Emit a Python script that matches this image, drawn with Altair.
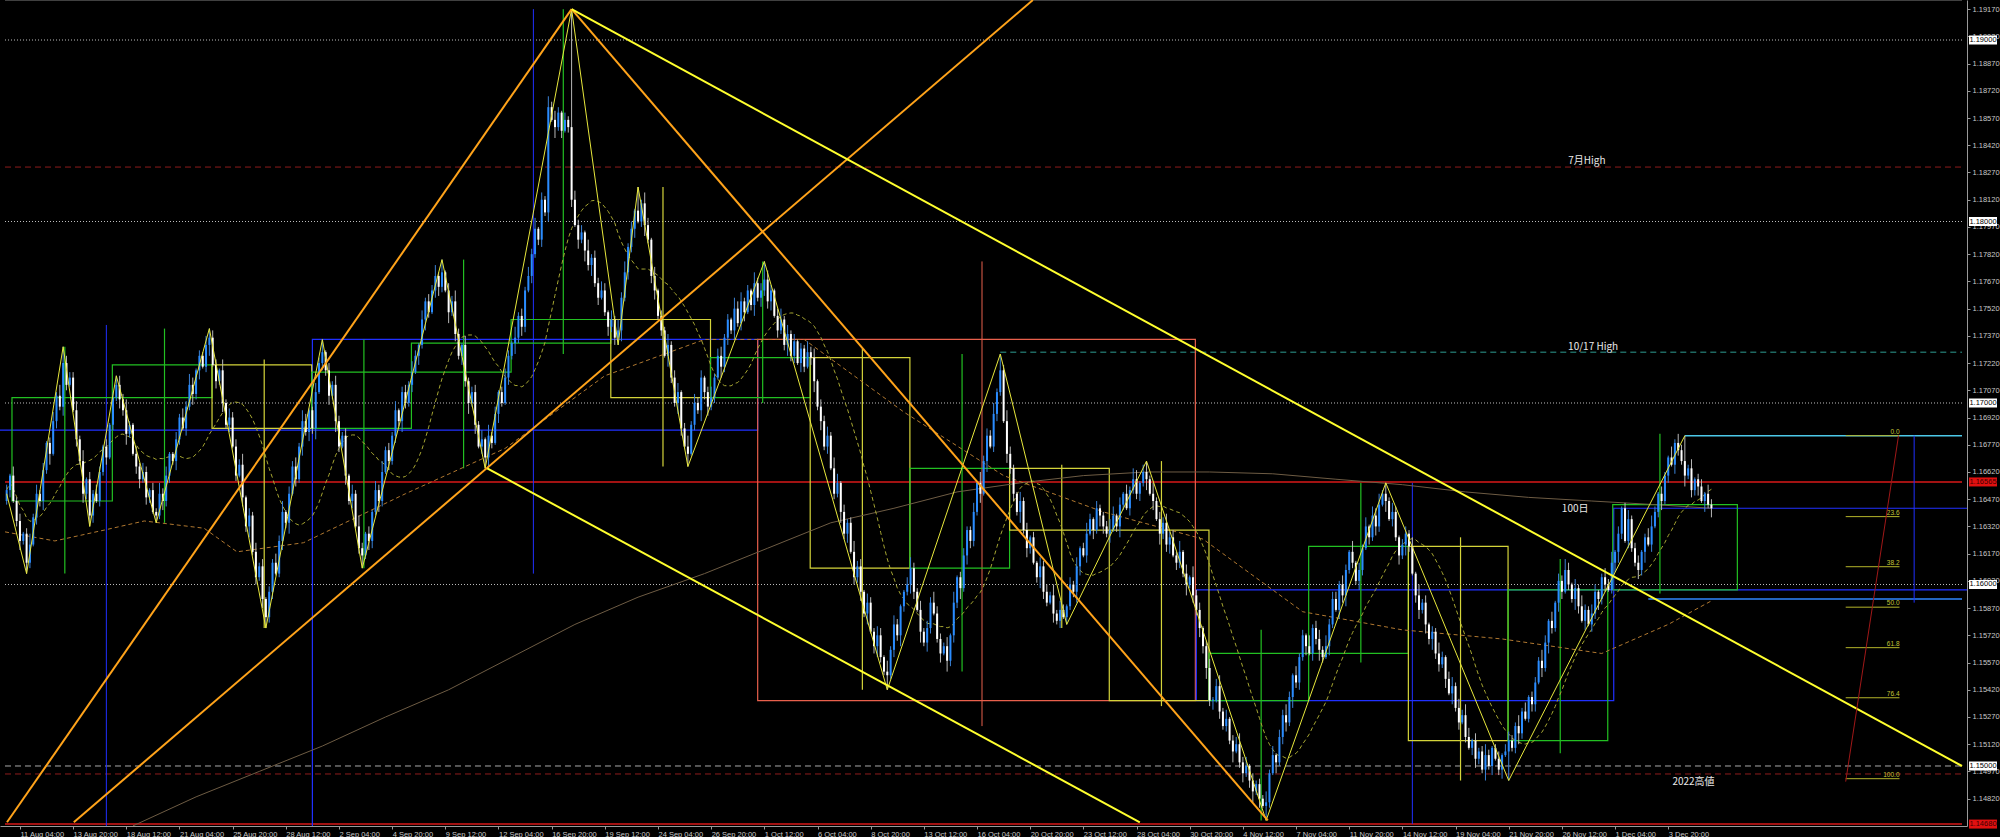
import altair as alt
import pandas as pd

# Prices are kept in pips above BASE (1 pip = 0.0001)
BASE = 1.15
PIP = 0.0001


def price(p):
    return round(BASE + p * PIP, 6)


# ---------------- 4-hour EURUSD candles (bar 0 = Fri 8 Aug 12:00) ----------------
FIRST_OPEN = 146
CLOSES = [
    152, 160, 146, 135, 124, 128, 112,
    122, 137, 150, 146, 163, 178, 172, 190, 204, 198, 222,
    210, 214, 196, 180, 168, 150, 158, 138,
    150, 146, 162, 176, 170, 188, 203, 210,
    202, 196, 183, 188, 172, 165, 158, 162, 148, 152, 140, 138,
    150, 146, 160, 172, 168, 180, 192, 186, 198, 210, 205, 218, 226, 220, 232, 236,
    221, 212, 218, 200, 188, 192, 176, 160, 166, 148, 132, 138, 118, 104, 110, 92, 82,
    96, 112, 106, 124, 140, 134, 150, 165, 158, 176, 190, 184, 196, 186, 206, 222, 228,
    218, 204, 210, 190, 176, 182, 160, 146, 150, 132, 120, 116,
    128, 124, 140, 152, 146, 162, 174, 168, 182, 196, 190, 206, 200, 210, 217, 226, 232, 246, 256, 250, 262, 270, 264, 272,
    262, 250, 256, 238, 226, 232, 212, 200, 206, 188, 176, 180, 170,
    182, 178, 194, 206, 200, 214, 226, 233, 236, 248, 242, 262, 270, 282, 296, 290, 312, 305, 363, 356, 352, 360, 350, 356, 352, 312,
    298, 290, 294, 284, 276, 280, 266, 258, 262, 250, 242, 246, 236, 240,
    258, 272, 286, 296, 306, 300, 310, 298, 290, 270, 262, 248, 240,
    226, 232, 214, 200, 206, 186, 176, 172,
    188, 200, 196, 214, 206, 198, 203,
    214, 226, 220, 236, 246, 240, 252, 244, 256, 250, 262, 254, 266, 258, 262, 268,
    256, 262, 248, 240, 246, 232, 238, 226, 234, 222, 230, 220, 228, 225,
    212, 198, 190, 176, 182, 164, 150, 156, 140, 128, 134, 118, 104, 110, 96, 84, 90, 74, 66, 72, 60, 52, 50,
    64, 78, 72, 88, 96, 100, 109,
    96, 86, 74, 68, 76, 90, 84, 70, 62, 66, 58,
    72, 90, 104, 98, 116, 130, 124, 140, 156, 150, 168, 182, 176, 194, 206, 218,
    190, 172, 164,
    150, 140, 146, 130, 120, 126, 112, 104, 110, 96, 90, 94, 84, 80, 86, 82, 88,
    100, 96, 110, 120, 116, 128, 136, 130, 142, 138, 132, 128, 130,
    138, 132, 144, 150, 142, 152, 158, 150, 156, 162, 158,
    150, 146, 136, 128, 134, 122, 126, 116, 112, 118, 106, 100, 104, 94, 86, 76, 66, 54, 36, 36, 44, 30, 22, 26, 14, 8, 12, 2, -4, 0, -8, -14, -10, -18, -22, -20,
    -4, 6, 2, 16, 28, 24, 38, 50, 46, 60, 72, 66, 62,
    76, 70, 64, 60, 66, 78, 92, 86, 100, 94, 108, 118, 112, 102, 108, 120, 132, 126, 138, 132, 144, 150, 146,
    136, 140, 126, 116, 122, 128, 121,
    106, 94, 86, 90, 78, 70, 74, 62, 56, 60, 48, 40, 44, 32, 24, 28, 16, 10, 14, 4, 8, -2, 6, 0, 10, 4, -2, 6, 8, 14,
    10, 22, 18, 30, 26, 38, 34, 46, 58, 54, 68, 80, 76, 90, 102, 96, 108, 100, 92, 98, 88, 80, 86, 78, 84, 96, 92, 104, 100, 97,
    112, 118, 128, 142, 124, 136, 120, 112, 108, 118, 126, 122, 132, 140, 150, 146, 160, 170, 166, 178, 174, 168, 160,
    164, 152, 158, 154, 146, 150, 144, 142,
]

# wick lengths in pips, one digit per bar
UPPER_WICKS = (
    "3152413625" "2413526143" "3526142531" "4132536214" "2531426351"
    "1425364132" "5243162534" "3614252413" "2536143526" "4125361425"
    "3241526314" "1536242513" "4263152436" "2514363152" "3425162413"
    "5316242536" "1426353142" "2534162435" "4152636241" "3264151326"
    "2451362534" "1362452316" "4523163425" "3146252413" "2635143526"
    "5142363415" "3254162531" "1463252436" "4325161342" "2516343625"
    "3642152413" "1534262531" "4251363142" "2365141526" "5143262435"
    "3426151634" "1352462513" "4635142326" "2514363152" "3162452634"
    "4253161425" "1546232531" "3425162413" "2631452536" "5142363124"
    "1453262513" "3264151436" "4152632541" "2536141352" "3412563142"
    "1625342513" "4153262435"
)
LOWER_WICKS = (
    "2413526314" "3526142531" "1425364132" "4132536214" "5243162534"
    "2531426351" "3614252413" "1536242513" "4125361425" "2536143526"
    "3152413625" "4263152436" "3241526314" "5316242536" "2514363152"
    "1426353142" "3425162413" "4152636241" "2534162435" "1362452316"
    "3264151326" "4523163425" "2451362534" "5142363415" "3146252413"
    "2635143526" "1463252436" "3254162531" "2516343625" "4325161342"
    "1534262531" "3642152413" "2365141526" "4251363142" "3426151634"
    "5143262435" "4635142326" "1352462513" "3162452634" "2514363152"
    "1546232531" "4253161425" "2631452536" "3425162413" "1453262513"
    "5142363124" "4152632541" "3264151436" "3412563142" "2536141352"
    "4153262435" "1625342513"
)

# swing extremes (pips) that the wick digits do not cover
HIGH_AT = {17: 231, 33: 215, 61: 241, 95: 235, 131: 279, 170: 417, 190: 319,
           228: 278, 299: 227, 343: 168, 415: 156, 505: 182}
LOW_AT = {6: 106, 25: 132, 45: 134, 78: 76, 107: 109, 144: 164, 184: 232,
          205: 165, 265: 42, 319: 78, 379: -30, 452: -8}

# zigzag pivots (bar, pips)
SWINGS = [(0, 150), (6, 106), (17, 231), (25, 132), (33, 215), (45, 134), (61, 241),
          (78, 76), (95, 235), (107, 109), (131, 279), (144, 164), (170, 417),
          (184, 232), (190, 319), (205, 165), (228, 278), (265, 42), (299, 227),
          (319, 78), (343, 168), (379, -30), (415, 156), (452, -8), (505, 182)]

# weeks: first bar, box left, box right (bars)
WEEKS = [(3, 1.6, 31.8), (33, 31.8, 61.8), (63, 61.8, 91.8), (93, 91.8, 121.8),
         (123, 121.8, 151.8), (153, 151.8, 181.8), (183, 181.8, 211.8), (213, 211.8, 241.8),
         (243, 241.8, 271.8), (273, 271.8, 301.8), (303, 301.8, 331.8), (333, 331.8, 361.8),
         (363, 361.8, 391.8), (393, 391.8, 421.8), (423, 421.8, 451.8), (453, 451.8, 481.8),
         (483, 483.3, 520.8)]

# monthly candles: start bar, end bar, open, close, high, low, wick bar
MONTHS = [
    (-40, 92, -85, 185, 243, -110, 30),
    (92, 226, 185, 235, 417, 106, 158.5),
    (226, 357.7, 235, 36, 278, 22, 293.5),
    (358, 483.6, 36, 97, 156, -32, 423),
    (483.6, 640, 97, 142, 182, 90, 574),
]

# slower averages (bar, pips)
MA_MID = [(-0.5, 129), (14.5, 124), (29.4, 130), (41.4, 135), (59.4, 131), (69.3, 118),
          (89.3, 123), (120, 150), (150, 175), (180, 215), (210, 235), (240, 235),
          (270, 195), (300, 160), (330, 140), (360, 125), (390, 85), (420, 75),
          (450, 70), (480, 62), (500, 78), (513, 91)]
MA_100D = [(38, -33), (57, -17), (76, -3), (95, 11), (114, 27), (133, 42), (152, 60),
           (171, 78), (190, 93), (210, 106), (229, 120), (248, 134), (267, 142),
           (286, 151), (305, 156), (324, 160), (343, 162), (362, 162), (381, 161),
           (400, 158), (420, 155), (439, 151), (458, 148), (477, 146), (496, 144),
           (513, 142)]

# trend lines (bar, pips) -> (bar, pips)
TRENDS = [
    ((0.1, -31), (170, 417), "#ffa31a"),
    ((20.2, -31), (308.8, 422), "#ffa31a"),
    ((170, 417), (379.5, -30), "#ffa31a"),
    ((170, 417), (588.4, 0), "#ffff2e"),
    ((144.6, 164), (341, -31), "#ffff2e"),
]

# horizontal levels: pips, from bar, to bar, colour, dash, width
LEVELS = [
    (400, -0.5, 588.4, "#bdbdbd", [1, 2], 1),
    (300, -0.5, 588.4, "#bdbdbd", [1, 2], 1),
    (200, -0.5, 588.4, "#bdbdbd", [1, 2], 1),
    (100, -0.5, 588.4, "#bdbdbd", [1, 2], 1),
    (0, -0.5, 588.4, "#a8a8a8", [6, 4], 1),
    (330, -0.5, 588.4, "#8c1c1c", [6, 4], 1),
    (228, 299, 588.4, "#2f9c92", [6, 4], 1),
    (-4.4, -0.5, 588.4, "#8c1c1c", [6, 4], 1),
    (156.5, -0.5, 588.4, "#d81818", [], 1.5),
    (-32, -0.5, 588.4, "#d81818", [], 1.5),
    (182, 505, 588.4, "#4cc8e8", [], 1.5),
    (92, 494, 588.4, "#2f86ff", [], 1.5),
]

# text notes: text, bar, pips at the text baseline
NOTES = [("7月High", 475.5, 331.5), ("10/17 High", 477.4, 229), ("100日", 472, 140), ("2022高値", 507.6, -10.5)]

FIB_LEVELS = ["0.0", "23.6", "38.2", "50.0", "61.8", "76.4", "100.0"]
FIB_HIGH, FIB_LOW = 182, -7

TIME_TICKS = [4, 20, 36, 52, 68, 84, 100, 116, 132, 148, 164, 180, 196, 212, 228, 244,
              260, 276, 292, 308, 324, 340, 356, 372, 388, 404, 420, 436, 452, 468, 484, 500]
TIME_LABELS = ["11 Aug 04:00", "13 Aug 20:00", "18 Aug 12:00", "21 Aug 04:00", "25 Aug 20:00",
               "28 Aug 12:00", "2 Sep 04:00", "4 Sep 20:00", "9 Sep 12:00", "12 Sep 04:00",
               "16 Sep 20:00", "19 Sep 12:00", "24 Sep 04:00", "26 Sep 20:00", "1 Oct 12:00",
               "6 Oct 04:00", "8 Oct 20:00", "13 Oct 12:00", "16 Oct 04:00", "20 Oct 20:00",
               "23 Oct 12:00", "28 Oct 04:00", "30 Oct 20:00", "4 Nov 12:00", "7 Nov 04:00",
               "11 Nov 20:00", "14 Nov 12:00", "19 Nov 04:00", "21 Nov 20:00", "26 Nov 12:00",
               "1 Dec 04:00", "3 Dec 20:00"]
PRICE_TICKS = [1.14820, 1.14970, 1.15120, 1.15270, 1.15420, 1.15570, 1.15720, 1.15870,
               1.16020, 1.16170, 1.16320, 1.16470, 1.16620, 1.16770, 1.16920, 1.17070,
               1.17220, 1.17370, 1.17520, 1.17670, 1.17820, 1.17970, 1.18120, 1.18270,
               1.18420, 1.18570, 1.18720, 1.18870, 1.19020, 1.19170]
# boxed price tags on the axis: price, text, background, text colour
TAGS = [(1.19000, "1.19000", "#ffffff", "#000000"), (1.18000, "1.18000", "#ffffff", "#000000"),
        (1.17000, "1.17000", "#ffffff", "#000000"), (1.16000, "1.16000", "#ffffff", "#000000"),
        (1.15000, "1.15000", "#ffffff", "#000000"), (1.16565, "1.16565", "#e01010", "#400000"),
        (1.14680, "1.14680", "#e01010", "#400000")]

# ---------------- tables ----------------
rows = []
prev = FIRST_OPEN
for i, c in enumerate(CLOSES):
    o = prev
    hi = HIGH_AT.get(i, max(o, c) + int(UPPER_WICKS[i]))
    lo = LOW_AT.get(i, min(o, c) - int(LOWER_WICKS[i]))
    bull = c >= o
    rows.append({
        "bar": i, "open": price(o), "close": price(c), "high": price(hi), "low": price(lo),
        "body_lo": price(min(o, c)), "body_hi": price(max(o, c) + (0.6 if o == c else 0)),
        "body_col": "#2a8cff" if bull else "#ffffff",
        "wick_col": "#3b82d6" if bull else "#b8b8b8",
        "o": o, "c": c, "h": hi, "l": lo,
    })
    prev = c
candles = pd.DataFrame(rows)

weeks = []
for s, x0, x1 in WEEKS:
    part = candles[(candles.bar >= s) & (candles.bar <= s + 29)]
    o, c = part.o.iloc[0], part.c.iloc[-1]
    weeks.append({
        "x0": x0, "x1": x1, "mid": s + 14.5,
        "top": price(max(o, c)), "bot": price(min(o, c)),
        "high": price(part.h.max()), "low": price(part.l.min()),
        "col": "#22c022" if c >= o else "#d4d43a",
    })
weeks = pd.DataFrame(weeks)

months = pd.DataFrame([{
    "x0": s, "x1": e, "mid": m, "top": price(max(o, c)), "bot": price(min(o, c)),
    "high": price(h), "low": price(l), "col": "#2030ff" if c >= o else "#e8604c",
} for s, e, o, c, h, l, m in MONTHS])

zig = pd.DataFrame([{"i": k, "bar": b, "p": price(v)} for k, (b, v) in enumerate(SWINGS)])
ma_mid = pd.DataFrame([{"bar": b, "p": price(v)} for b, v in MA_MID])
ma_100 = pd.DataFrame([{"bar": b, "p": price(v)} for b, v in MA_100D])

XS = alt.Scale(domain=[-0.5, 588.4], nice=False, zero=False)
YS = alt.Scale(domain=[1.146694, 1.192204], nice=False, zero=False)

label_expr = "[" + ",".join(f"'{t}'" for t in TIME_LABELS) + "][round((datum.value - 4) / 16)]"
AXIS_X = alt.Axis(values=TIME_TICKS, labelExpr=label_expr, orient="bottom", labelAlign="left",
                  labelPadding=1, tickSize=3, labelFontSize=7.5, labelColor="#c8c8c8",
                  tickColor="#9a9a9a", domainColor="#9a9a9a", labelFont="Liberation Sans",
                  grid=False, title=None, labelOverlap=False, labelBound=False, labelFlush=False)
AXIS_Y = alt.Axis(values=PRICE_TICKS, format=".5f", orient="right", labelPadding=2, tickSize=3,
                  labelFontSize=7.5, labelColor="#c8c8c8", tickColor="#9a9a9a",
                  domainColor="#9a9a9a", labelFont="Liberation Sans", grid=False, title=None,
                  labelOverlap=False, labelBound=False, labelFlush=False)


def X(f):
    return alt.X(f"{f}:Q", scale=XS, axis=AXIS_X)


def Y(f):
    return alt.Y(f"{f}:Q", scale=YS, axis=AXIS_Y)


layers = []

# horizontal levels
for p, x0, x1, col, dash, w in LEVELS:
    d = pd.DataFrame([{"p": price(p), "x0": x0, "x1": x1}])
    kw = {"strokeDash": dash} if dash else {}
    layers.append(alt.Chart(d).mark_rule(color=col, strokeWidth=w, clip=True, **kw)
                  .encode(x=X("x0"), x2="x1", y=Y("p")))

# top frame line
layers.append(alt.Chart(pd.DataFrame([{"p": 1.192204, "x0": -0.5, "x1": 588.4}]))
              .mark_rule(color="#808080", strokeWidth=1)
              .encode(x=X("x0"), x2="x1", y=Y("p")))

# monthly candles
layers.append(alt.Chart(months).mark_rule(strokeWidth=1, clip=True)
              .encode(x=X("mid"), y=Y("low"), y2="high", color=alt.Color("col:N", scale=None)))
layers.append(alt.Chart(months).mark_rect(fillOpacity=0, strokeWidth=1.2, clip=True)
              .encode(x=X("x0"), x2="x1", y=Y("bot"), y2="top", stroke=alt.Stroke("col:N", scale=None)))

# weekly candles
layers.append(alt.Chart(weeks).mark_rule(strokeWidth=1.2, clip=True)
              .encode(x=X("mid"), y=Y("low"), y2="high", color=alt.Color("col:N", scale=None)))
layers.append(alt.Chart(weeks).mark_rect(fillOpacity=0, strokeWidth=1.2, clip=True)
              .encode(x=X("x0"), x2="x1", y=Y("bot"), y2="top", stroke=alt.Stroke("col:N", scale=None)))

# moving averages
layers.append(alt.Chart(ma_100).mark_line(color="#6e5c44", strokeWidth=1, clip=True)
              .encode(x=X("bar"), y=Y("p")))
layers.append(alt.Chart(ma_mid).mark_line(color="#b07830", strokeWidth=1, strokeDash=[4, 3], clip=True)
              .encode(x=X("bar"), y=Y("p")))
layers.append(alt.Chart(candles)
              .transform_window(ma="mean(close)", frame=[-20, 0], sort=[{"field": "bar"}])
              .mark_line(color="#a6a632", strokeWidth=1, strokeDash=[4, 3], clip=True)
              .encode(x=X("bar"), y=Y("ma")))

# candles
layers.append(alt.Chart(candles).mark_rule(strokeWidth=1)
              .encode(x=X("bar"), y=Y("low"), y2="high", color=alt.Color("wick_col:N", scale=None)))
layers.append(alt.Chart(candles).mark_bar(size=2)
              .encode(x=X("bar"), y=Y("body_lo"), y2="body_hi",
                      color=alt.Color("body_col:N", scale=None)))

# zigzag
layers.append(alt.Chart(zig).mark_line(color="#e8e83c", strokeWidth=1, clip=True)
              .encode(x=X("bar"), y=Y("p"), order="i:Q"))

# trend lines
for (b0, p0), (b1, p1), col in TRENDS:
    d = pd.DataFrame([{"bar": b0, "p": price(p0)}, {"bar": b1, "p": price(p1)}])
    layers.append(alt.Chart(d).mark_line(color=col, strokeWidth=2, clip=True)
                  .encode(x=X("bar"), y=Y("p")))

# Fibonacci retracement of the last swing
fib = pd.DataFrame([{
    "lvl": t, "p": price(FIB_HIGH - float(t) / 100 * (FIB_HIGH - FIB_LOW)), "x0": 553.4, "x1": 569.6,
} for t in FIB_LEVELS])
layers.append(alt.Chart(fib).mark_rule(color="#b4b42a", strokeWidth=1)
              .encode(x=X("x0"), x2="x1", y=Y("p")))
layers.append(alt.Chart(fib).mark_text(color="#c4c43a", fontSize=6.5, align="right", baseline="bottom",
                                       dy=-1, font="Liberation Sans")
              .encode(x=X("x1"), y=Y("p"), text="lvl:N"))
fib_base = pd.DataFrame([{"bar": 553.4, "p": price(-8.6)}, {"bar": 569.3, "p": price(FIB_HIGH)}])
layers.append(alt.Chart(fib_base).mark_line(color="#a01818", strokeWidth=1)
              .encode(x=X("bar"), y=Y("p")))

# text notes
notes = pd.DataFrame([{"t": t, "bar": b, "p": price(p)} for t, b, p in NOTES])
layers.append(alt.Chart(notes).mark_text(color="#e8e8e8", fontSize=10, font="Noto Sans CJK JP",
                                         baseline="alphabetic")
              .encode(x=X("bar"), y=Y("p"), text="t:N"))

# boxed axis tags
tags = pd.DataFrame([{"p": p, "t": t, "bg": bg, "fg": fg} for p, t, bg, fg in TAGS])
layers.append(alt.Chart(tags).mark_rect(yOffset=-4.5, y2Offset=4.5)
              .encode(x=alt.value(1969), x2=alt.value(1997), y=Y("p"), y2="p",
                      fill=alt.Fill("bg:N", scale=None)))
layers.append(alt.Chart(tags).mark_text(fontSize=7.5, font="Liberation Sans", baseline="middle")
              .encode(x=alt.value(1983), y=Y("p"), text="t:N", color=alt.Color("fg:N", scale=None)))

chart = alt.layer(*layers).properties(
    width=1967, height=826, background="#000000",
    padding={"left": 0, "top": 0, "right": 33, "bottom": 11},
    autosize=alt.AutoSizeParams(type="none"),
).configure_view(stroke=None)

chart.save("out.html", embed_options={"renderer": "svg", "actions": False})
